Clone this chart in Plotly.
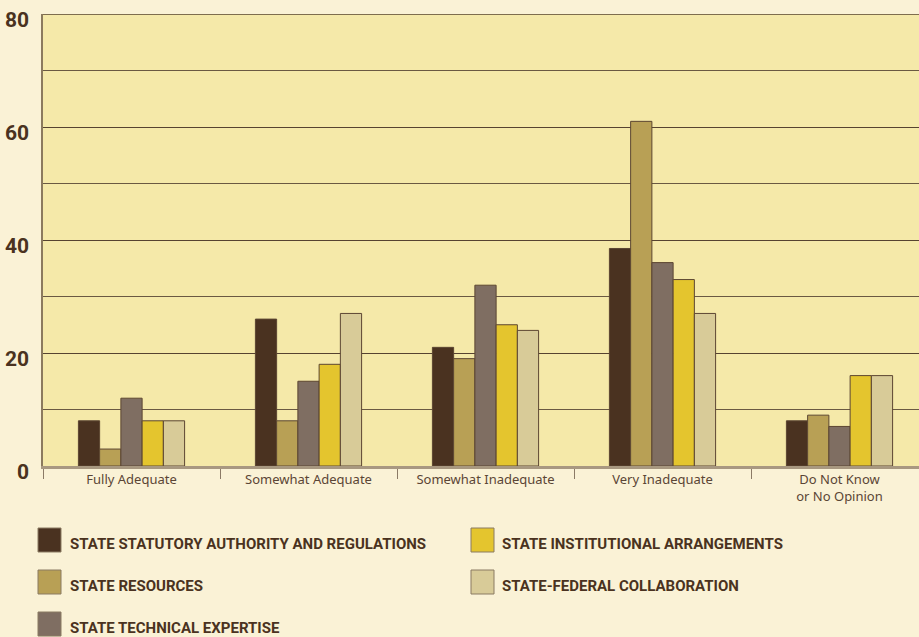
import plotly.graph_objects as go

# Survey responses (percent) by adequacy rating
categories = ["Fully Adequate", "Somewhat Adequate", "Somewhat Inadequate",
              "Very Inadequate", "Do Not Know<br>or No Opinion"]

series_names = [
    "STATE STATUTORY AUTHORITY AND REGULATIONS",
    "STATE RESOURCES",
    "STATE TECHNICAL EXPERTISE",
    "STATE INSTITUTIONAL ARRANGEMENTS",
    "STATE-FEDERAL COLLABORATION",
]

statutory = [8, 26, 21, 38.5, 8]
resources = [3, 8, 19, 61, 9]
technical = [12, 15, 32, 36, 7]
institutional = [8, 18, 25, 33, 16]
federal = [8, 27, 24, 27, 16]

y_tick_values = [0, 20, 40, 60, 80]
y_tick_labels = ["0", "20", "40", "60", "80"]

series_values = [statutory, resources, technical, institutional, federal]
series_colors = ["#4A3220", "#B8A055", "#7F6E62", "#E4C52E", "#D8CB98"]
outline_color = "#5C4632"

PAPER_BG = "#FAF2D6"
PLOT_BG = "#F5E9A9"
TEXT_DARK = "#4A3220"
COND_FONT = "Roboto, 'Liberation Sans Narrow', sans-serif"

fig = go.Figure()
for name, vals, color in zip(series_names, series_values, series_colors):
    fig.add_trace(go.Bar(
        name=name,
        x=categories,
        y=vals,
        marker=dict(color=color, line=dict(color=outline_color, width=1)),
        showlegend=False,
    ))

# Plot-area geometry in pixels, used to place the hand-built legend
L, T, W, H = 43, 14, 876, 452


def px_x(px):
    return (px - L) / W


def px_y(py):
    return (T + H - py) / H


# Legend: two columns, filled row by row
legend_layout = [
    (0, 38, 68, 540),
    (1, 38, 68, 582),
    (2, 38, 68, 624),
    (3, 471, 500, 540),
    (4, 471, 500, 582),
]
shapes = []
annotations = []
for idx, sx, tx, cy in legend_layout:
    shapes.append(dict(
        type="rect", xref="paper", yref="paper",
        x0=px_x(sx), x1=px_x(sx + 23), y0=px_y(cy + 12), y1=px_y(cy - 12),
        fillcolor=series_colors[idx], line=dict(color="#8A7A62", width=1),
    ))
    annotations.append(dict(
        xref="paper", yref="paper", x=px_x(tx), y=px_y(cy + 4),
        xanchor="left", yanchor="middle", showarrow=False,
        text=series_names[idx],
        font=dict(family=COND_FONT, size=15, color=TEXT_DARK, weight="bold"),
    ))

# Top border of the plotting area, drawn in the grid colour
shapes.append(dict(
    type="line", xref="paper", yref="y", x0=0, x1=1, y0=80, y1=80,
    line=dict(color="#564330", width=1.4), layer="above",
))

fig.update_layout(
    width=919, height=637,
    margin=dict(l=L, r=0, t=T, b=637 - T - H, pad=0, autoexpand=False),
    paper_bgcolor=PAPER_BG,
    plot_bgcolor=PLOT_BG,
    barmode="group",
    bargap=0.4,
    bargroupgap=0,
    shapes=shapes,
    annotations=annotations,
    showlegend=False,
)

fig.update_xaxes(
    range=[-0.5, -0.5 + W / 177.0],
    automargin=False,
    showline=True, linecolor="#A89880", linewidth=2.5,
    ticks="outside", tickson="boundaries", ticklen=10, tickwidth=1.2,
    tickcolor="#8B7A66",
    tickfont=dict(family="Noto Sans, Open Sans, sans-serif", size=13, color="#5A4535"),
    showgrid=False,
)

fig.update_yaxes(
    range=[0, 80],
    automargin=False,
    tickvals=y_tick_values, ticktext=y_tick_labels,
    showgrid=True, gridcolor="#564330", gridwidth=1.2,
    minor=dict(dtick=10, showgrid=True, gridcolor="#6A5942", gridwidth=1.1),
    zeroline=False,
    showline=True, linecolor="#8B7A5E", linewidth=1.5,
    ticks="", ticklabelstandoff=8, ticklabelshift=6,
    tickfont=dict(family=COND_FONT, size=21, color=TEXT_DARK, weight="bold"),
)

fig.write_html("out.html")
